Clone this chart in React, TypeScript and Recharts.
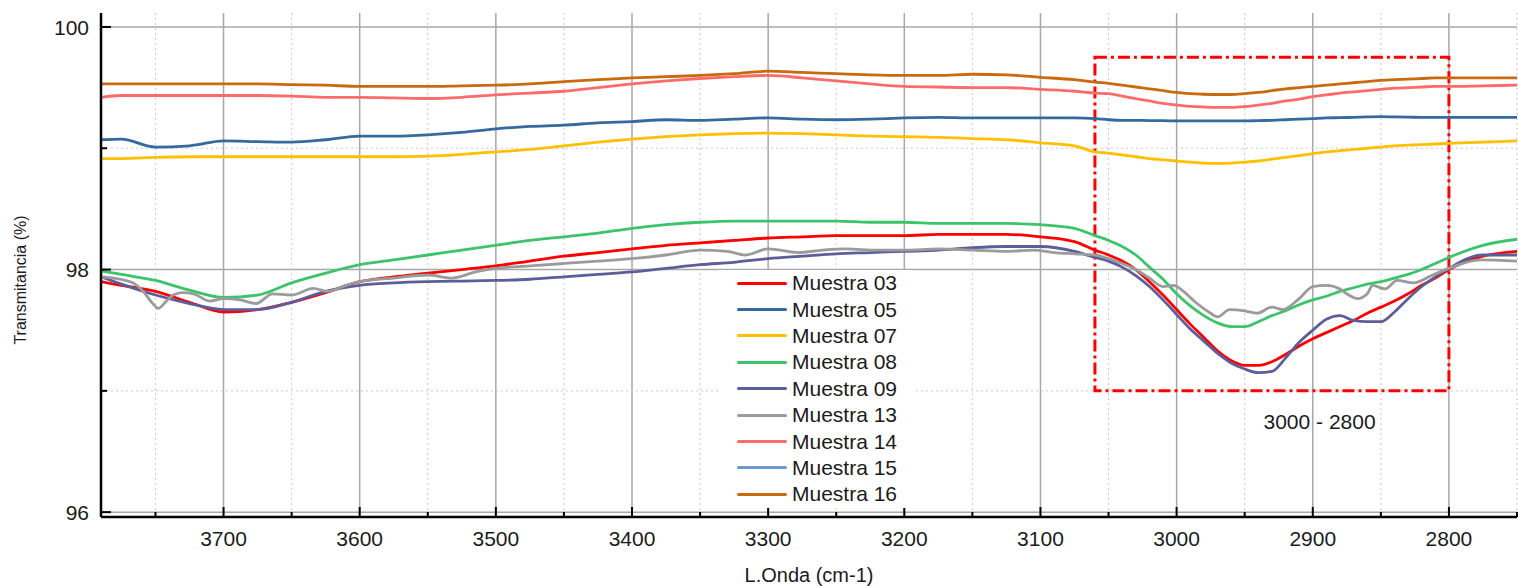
import React from 'react';
import {
  LineChart,
  Line,
  XAxis,
  YAxis,
  CartesianGrid,
  Legend,
  ReferenceArea,
  ReferenceDot,
} from 'recharts';

const FONT = '"Liberation Sans", Arial, sans-serif';
const TEXT = '#1b1b1b';

// wavenumber grid shared by the smooth spectra (cm-1)
const WN = [
  3790, 3775, 3750, 3725, 3700, 3675, 3650, 3625, 3600, 3575, 3550, 3525, 3500, 3475, 3450,
  3425, 3400, 3375, 3350, 3325, 3300, 3275, 3250, 3225, 3200, 3175, 3150, 3125, 3100, 3075,
  3060, 3050, 3040, 3030, 3020, 3010, 3000, 2990, 2980, 2970, 2960, 2950, 2940, 2930, 2920,
  2910, 2900, 2890, 2880, 2870, 2860, 2850, 2840, 2830, 2820, 2810, 2800, 2775, 2750,
];

const M03 = [
  97.9, 97.87, 97.82, 97.73, 97.65, 97.67, 97.73, 97.81, 97.9, 97.94, 97.97, 98.0, 98.03, 98.07, 98.11,
  98.14, 98.17, 98.2, 98.22, 98.24, 98.26, 98.27, 98.28, 98.28, 98.28, 98.29, 98.29, 98.29, 98.27, 98.23,
  98.16, 98.12, 98.07, 98.0, 97.9, 97.79, 97.67, 97.55, 97.44, 97.33, 97.25, 97.21, 97.21, 97.24, 97.3,
  97.37, 97.43, 97.48, 97.53, 97.58, 97.64, 97.69, 97.74, 97.8, 97.87, 97.93, 98.0, 98.11, 98.15,
];

const M05 = [
  99.07, 99.075, 99.01, 99.02, 99.06, 99.055, 99.05, 99.07, 99.1, 99.1, 99.11, 99.13, 99.16, 99.18, 99.19,
  99.21, 99.22, 99.235, 99.23, 99.24, 99.25, 99.24, 99.235, 99.24, 99.25, 99.255, 99.25, 99.25, 99.25, 99.25,
  99.245, 99.235, 99.23, 99.23, 99.228, 99.228, 99.225, 99.225, 99.225, 99.225, 99.225, 99.225, 99.228, 99.23, 99.235,
  99.24, 99.245, 99.25, 99.252, 99.255, 99.258, 99.26, 99.258, 99.256, 99.255, 99.255, 99.255, 99.255, 99.255,
];

const M07 = [
  98.915, 98.915, 98.925, 98.93, 98.93, 98.93, 98.93, 98.93, 98.93, 98.93, 98.935, 98.95, 98.97, 98.99, 99.02,
  99.05, 99.075, 99.095, 99.11, 99.12, 99.125, 99.12, 99.11, 99.1, 99.095, 99.09, 99.08, 99.07, 99.045, 99.02,
  98.97, 98.96, 98.945, 98.93, 98.915, 98.905, 98.895, 98.885, 98.878, 98.875, 98.878, 98.885, 98.895, 98.91, 98.925,
  98.94, 98.955, 98.97, 98.98, 98.99, 99.0, 99.01, 99.02, 99.025, 99.03, 99.035, 99.04, 99.05, 99.06,
];

const M08 = [
  97.99, 97.96, 97.91, 97.83, 97.77, 97.79, 97.89, 97.97, 98.04, 98.08, 98.12, 98.16, 98.2, 98.24, 98.27,
  98.3, 98.34, 98.37, 98.39, 98.4, 98.4, 98.4, 98.4, 98.39, 98.39, 98.38, 98.38, 98.38, 98.37, 98.34,
  98.28, 98.24, 98.19, 98.12, 98.02, 97.92, 97.8, 97.7, 97.62, 97.56, 97.53, 97.53, 97.57, 97.62, 97.66,
  97.71, 97.75, 97.78, 97.82, 97.85, 97.88, 97.9, 97.93, 97.96, 98.0, 98.05, 98.1, 98.2, 98.25,
];

const M09 = [
  97.94, 97.88, 97.79, 97.72, 97.67, 97.67, 97.73, 97.82, 97.87, 97.89, 97.9, 97.905, 97.91, 97.92, 97.94,
  97.96, 97.98, 98.01, 98.04, 98.06, 98.09, 98.11, 98.13, 98.14, 98.15, 98.16, 98.18, 98.19, 98.19, 98.15,
  98.1, 98.07, 98.02, 97.95, 97.86, 97.75, 97.63, 97.51, 97.41, 97.31, 97.23, 97.18, 97.15, 97.16, 97.27,
  97.4, 97.5, 97.59, 97.62, 97.58, 97.57, 97.57, 97.65, 97.76, 97.86, 97.94, 98.01, 98.12, 98.12,
];

const M14 = [
  99.42, 99.435, 99.435, 99.435, 99.435, 99.435, 99.43, 99.42, 99.42, 99.415, 99.41, 99.42, 99.44, 99.455, 99.47,
  99.5, 99.53, 99.555, 99.575, 99.59, 99.6, 99.58, 99.555, 99.53, 99.51, 99.505, 99.5, 99.5, 99.485, 99.47,
  99.455, 99.45, 99.43, 99.41, 99.39, 99.37, 99.357, 99.345, 99.34, 99.337, 99.337, 99.343, 99.355, 99.37, 99.39,
  99.405, 99.425, 99.44, 99.455, 99.465, 99.475, 99.486, 99.495, 99.5, 99.505, 99.51, 99.51, 99.515, 99.52,
];

const M16 = [
  99.53, 99.53, 99.53, 99.53, 99.53, 99.53, 99.525, 99.52, 99.51, 99.51, 99.51, 99.515, 99.52, 99.53, 99.55,
  99.565, 99.58, 99.59, 99.6, 99.615, 99.635, 99.625, 99.615, 99.605, 99.6, 99.6, 99.61, 99.605, 99.585, 99.565,
  99.545, 99.535, 99.52, 99.505, 99.49, 99.475, 99.46, 99.45, 99.445, 99.443, 99.443, 99.45, 99.46, 99.475, 99.49,
  99.5, 99.51, 99.52, 99.53, 99.54, 99.55, 99.56, 99.565, 99.57, 99.575, 99.58, 99.58, 99.58, 99.58,
];

// Muestra 13 is noisy, so it keeps its own, denser sampling
const WN13 = [
  3790, 3776, 3765, 3759, 3752, 3748, 3742, 3737, 3730, 3722, 3710, 3700, 3688, 3676, 3664, 3650,
  3634, 3624, 3610, 3600, 3575, 3550, 3532, 3515, 3500, 3475, 3450, 3425, 3400, 3375, 3350, 3330,
  3317, 3300, 3278, 3260, 3243, 3220, 3200, 3175, 3150, 3125, 3105, 3090, 3075, 3060, 3050, 3040,
  3030, 3020, 3010, 3002, 2995, 2985, 2975, 2970, 2961, 2950, 2941, 2930, 2922, 2910, 2900, 2890,
  2880, 2875, 2867, 2860, 2856, 2847, 2838, 2826, 2812, 2800, 2777, 2750,
];
const M13 = [
  97.94, 97.92, 97.88, 97.82, 97.72, 97.68, 97.74, 97.79, 97.81, 97.8, 97.74, 97.76, 97.75, 97.72, 97.8, 97.79,
  97.845, 97.82, 97.87, 97.9, 97.93, 97.955, 97.93, 97.98, 98.01, 98.03, 98.05, 98.07, 98.09, 98.12, 98.16, 98.15,
  98.12, 98.17, 98.14, 98.16, 98.17, 98.16, 98.16, 98.17, 98.16, 98.15, 98.16, 98.14, 98.13, 98.12, 98.09, 98.05,
  98.0, 97.93, 97.86, 97.87, 97.82, 97.72, 97.64, 97.61, 97.67, 97.66, 97.64, 97.69, 97.67, 97.76, 97.86, 97.87,
  97.84, 97.8, 97.76, 97.8, 97.87, 97.84, 97.91, 97.89, 97.955, 98.01, 98.08, 98.07,
];

const X_MAJOR = [3700, 3600, 3500, 3400, 3300, 3200, 3100, 3000, 2900, 2800];
const X_MINOR = [3750, 3650, 3550, 3450, 3350, 3250, 3150, 3050, 2950, 2850, 2750];
const X_TICKS = [...X_MAJOR, ...X_MINOR].sort((a, b) => b - a);
const Y_MAJOR = [96, 98, 100];
const Y_MINOR = [97, 99];
const Y_TICKS = [96, 97, 98, 99, 100];

// zoomed band marked on the chart
const BOX = { x1: 3060, x2: 2800, y1: 97, y2: 99.75 };
const BOX_LABEL = { x: 2895, y: 96.75, text: '3000 - 2800' };

const SERIES = [
  { name: 'Muestra 03', color: '#FF0000', wn: WN, values: M03 },
  { name: 'Muestra 05', color: '#356A9E', wn: WN, values: M05 },
  { name: 'Muestra 07', color: '#FFC000', wn: WN, values: M07 },
  { name: 'Muestra 08', color: '#3CC46A', wn: WN, values: M08 },
  { name: 'Muestra 09', color: '#5C5E9C', wn: WN, values: M09 },
  { name: 'Muestra 13', color: '#9B9B9B', wn: WN13, values: M13 },
  { name: 'Muestra 14', color: '#FF6B6B', wn: WN, values: M14 },
  { name: 'Muestra 15', color: '#6A9BD1', wn: [] as number[], values: [] as number[] },
  { name: 'Muestra 16', color: '#C96A0E', wn: WN, values: M16 },
];

const X_MARGIN = 14;
const Y_MARGIN = 12;

function BottomTick(props: any) {
  const { x, y, payload } = props;
  const major = X_MAJOR.includes(payload.value);
  const axisY = y - X_MARGIN;
  return (
    <g>
      <line x1={x} x2={x} y1={axisY} y2={axisY - (major ? 10 : 5)} stroke="#000" strokeWidth={2} />
      {major && (
        <text x={x} y={y} dy="0.71em" textAnchor="middle" fontSize={21} fontFamily={FONT} fill={TEXT}>
          {payload.value}
        </text>
      )}
    </g>
  );
}

function TopTick(props: any) {
  const { x, y, payload } = props;
  const major = X_MAJOR.includes(payload.value);
  return <line x1={x} x2={x} y1={y} y2={y + (major ? 10 : 5)} stroke="#000" strokeWidth={2} />;
}

function LeftTick(props: any) {
  const { x, y, payload } = props;
  const major = Y_MAJOR.includes(payload.value);
  const axisX = x + Y_MARGIN;
  return (
    <g>
      <line x1={axisX} x2={axisX + (major ? 10 : 6)} y1={y} y2={y} stroke="#000" strokeWidth={2} />
      {major && (
        <text x={x} y={y} dy="0.36em" textAnchor="end" fontSize={21} fontFamily={FONT} fill={TEXT}>
          {payload.value}
        </text>
      )}
    </g>
  );
}

const renderLegend = () => (
  <div style={{ background: '#fff', paddingLeft: 19, fontFamily: FONT, fontSize: 21, color: TEXT }}>
    {SERIES.map((s) => (
      <div key={s.name} style={{ display: 'flex', alignItems: 'center', height: 26.4 }}>
        <span
          style={{
            display: 'inline-block',
            width: 50,
            height: 3,
            background: s.color,
            borderRadius: 2,
            marginRight: 5,
          }}
        />
        <span>{s.name}</span>
      </div>
    ))}
  </div>
);

export default function App() {
  return (
    <div style={{ position: 'absolute', left: 0, top: 0, background: '#fff' }}>
      <LineChart width={1518} height={586} margin={{ top: 13, right: 1, bottom: 4, left: 8 }}>
        <CartesianGrid stroke="#a8a8a8" strokeWidth={1.5} verticalValues={X_MAJOR} horizontalValues={Y_MAJOR} />
        <CartesianGrid stroke="#c9c9c9" strokeDasharray="2 3" verticalValues={X_MINOR} horizontalValues={Y_MINOR} />
        <XAxis
          dataKey="wn"
          type="number"
          domain={[2750, 3790]}
          reversed
          allowDataOverflow
          ticks={X_TICKS}
          interval={0}
          height={65}
          tickSize={0}
          tickMargin={X_MARGIN}
          tickLine={false}
          tick={<BottomTick />}
          axisLine={{ stroke: '#000', strokeWidth: 2.5 }}
          label={{
            value: 'L.Onda (cm-1)',
            position: 'insideBottom',
            offset: 0,
            style: { fontSize: 20, fill: TEXT, fontFamily: FONT },
          }}
        />
        <XAxis
          xAxisId="top"
          orientation="top"
          dataKey="wn"
          type="number"
          domain={[2750, 3790]}
          reversed
          allowDataOverflow
          ticks={X_TICKS}
          interval={0}
          height={0}
          tickSize={0}
          tickMargin={0}
          tickLine={false}
          tick={<TopTick />}
          axisLine={{ stroke: '#000', strokeWidth: 2 }}
        />
        <YAxis
          type="number"
          domain={[95.96, 100.115]}
          allowDataOverflow
          ticks={Y_TICKS}
          interval={0}
          width={93}
          tickSize={0}
          tickMargin={Y_MARGIN}
          tickLine={false}
          tick={<LeftTick />}
          axisLine={{ stroke: '#000', strokeWidth: 2.5 }}
          label={{
            value: 'Transmitancia (%)',
            angle: -90,
            position: 'insideLeft',
            offset: 12,
            dy: 15,
            style: { textAnchor: 'middle', fontSize: 16, fill: TEXT, fontFamily: FONT },
          }}
        />
        {SERIES.map((s) => (
          <Line
            key={s.name}
            name={s.name}
            data={s.wn.map((w, i) => ({ wn: w, v: s.values[i] }))}
            dataKey="v"
            type="monotone"
            stroke={s.color}
            strokeWidth={2.8}
            dot={false}
            activeDot={false}
            isAnimationActive={false}
          />
        ))}
        <ReferenceArea
          x1={BOX.x1}
          x2={BOX.x2}
          y1={BOX.y1}
          y2={BOX.y2}
          stroke="#FF0000"
          strokeWidth={3}
          strokeDasharray="12 4 3 4"
          fill="none"
          fillOpacity={0}
        />
        <ReferenceDot
          x={BOX_LABEL.x}
          y={BOX_LABEL.y}
          r={0}
          fill="none"
          stroke="none"
          label={{ value: BOX_LABEL.text, position: 'center', fontSize: 21, fill: TEXT, fontFamily: FONT }}
        />
        <Legend
          layout="vertical"
          align="center"
          verticalAlign="middle"
          content={renderLegend}
          wrapperStyle={{ left: 718, top: 270, width: 195, height: 238 }}
        />
      </LineChart>
    </div>
  );
}
